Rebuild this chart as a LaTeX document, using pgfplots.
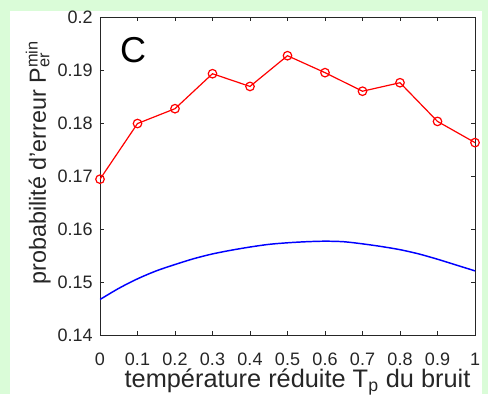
\documentclass[border=0pt]{standalone}
\usepackage{pgfplots}
\pgfplotsset{compat=1.18}
\usepackage{fontspec}
\setmainfont{Liberation Sans}
\definecolor{bggreen}{RGB}{218,252,216}
\definecolor{axgray}{RGB}{38,38,38}
\newcommand\tl[1]{{\fontsize{13.5}{15}\selectfont #1}}
\pgfplotstableread{
x y
0 0.1694
0.1 0.1799
0.2 0.1827
0.3 0.1893
0.4 0.1869
0.5 0.1927
0.6 0.1895
0.7 0.1860
0.8 0.1876
0.9 0.1803
1.0 0.1763
}\redtab
\pgfplotstableread{
x y
0 0.1467
0.05 0.1488
0.1 0.1506
0.15 0.1521
0.2 0.1533
0.25 0.1544
0.3 0.1553
0.35 0.1560
0.4 0.1566
0.45 0.1571
0.5 0.1574
0.55 0.1576
0.6 0.1577
0.65 0.1576
0.7 0.1572
0.75 0.1567
0.8 0.1561
0.85 0.1553
0.9 0.1543
0.95 0.1532
1.0 0.1521
}\bluetab
\begin{document}
\begin{tikzpicture}[x=0.75pt,y=0.75pt]
\fill[bggreen] (-100,-59) rectangle (388,335);
\fill[white] (-90,-59) rectangle (382,324);
\useasboundingbox (-100,-59) rectangle (388,335);
\begin{axis}[
  at={(0,0)}, anchor=south west,
  scale only axis,
  width=281.25pt, height=238.5pt,
  xmin=0, xmax=1, ymin=0.14, ymax=0.2,
  xtick={0,0.1,0.2,0.3,0.4,0.5,0.6,0.7,0.8,0.9,1},
  xticklabels={\tl{0},\tl{0.1},\tl{0.2},\tl{0.3},\tl{0.4},\tl{0.5},\tl{0.6},\tl{0.7},\tl{0.8},\tl{0.9},\tl{1}},
  ytick={0.14,0.15,0.16,0.17,0.18,0.19,0.2},
  yticklabels={\tl{0.14},\tl{0.15},\tl{0.16},\tl{0.17},\tl{0.18},\tl{0.19},\tl{0.2}},
  tick align=inside,
  major tick length=3pt,
  axis line style={axgray, line width=0.5pt},
  every tick/.style={axgray, line width=0.5pt},
  yticklabel style={text=axgray, anchor=east, inner sep=0pt, xshift=-5.25pt},
  xticklabel style={text=axgray, anchor=base, inner sep=0pt, yshift=-22.5pt},
  xlabel={température réduite T\textsubscript{p} du bruit},
  ylabel={probabilité d'erreur P\rlap{\textsuperscript{min}}\textsubscript{er}},
  xlabel style={font=\fontsize{19}{21}\selectfont, text=axgray, inner sep=0pt, at={(axis description cs:0.5,0)}, anchor=base, xshift=7.5pt, yshift=-39.5pt},
  ylabel style={font=\fontsize{17.5}{20}\selectfont, text=axgray, inner sep=0pt, at={(axis description cs:0,0.5)}, anchor=base, rotate=0, xshift=5.6pt, yshift=40.5pt},
]
\addplot[red, line width=0.9pt, mark=o, mark size=3.2pt, mark options={line width=0.9pt}] table[x=x,y=y] {\redtab};
\addplot[blue, line width=1.1pt, smooth] table[x=x,y=y] {\bluetab};
\node[font=\fontsize{27}{30}\selectfont, anchor=center] at (axis cs:0.088,0.19375) {C};
\end{axis}
\end{tikzpicture}
\end{document}
